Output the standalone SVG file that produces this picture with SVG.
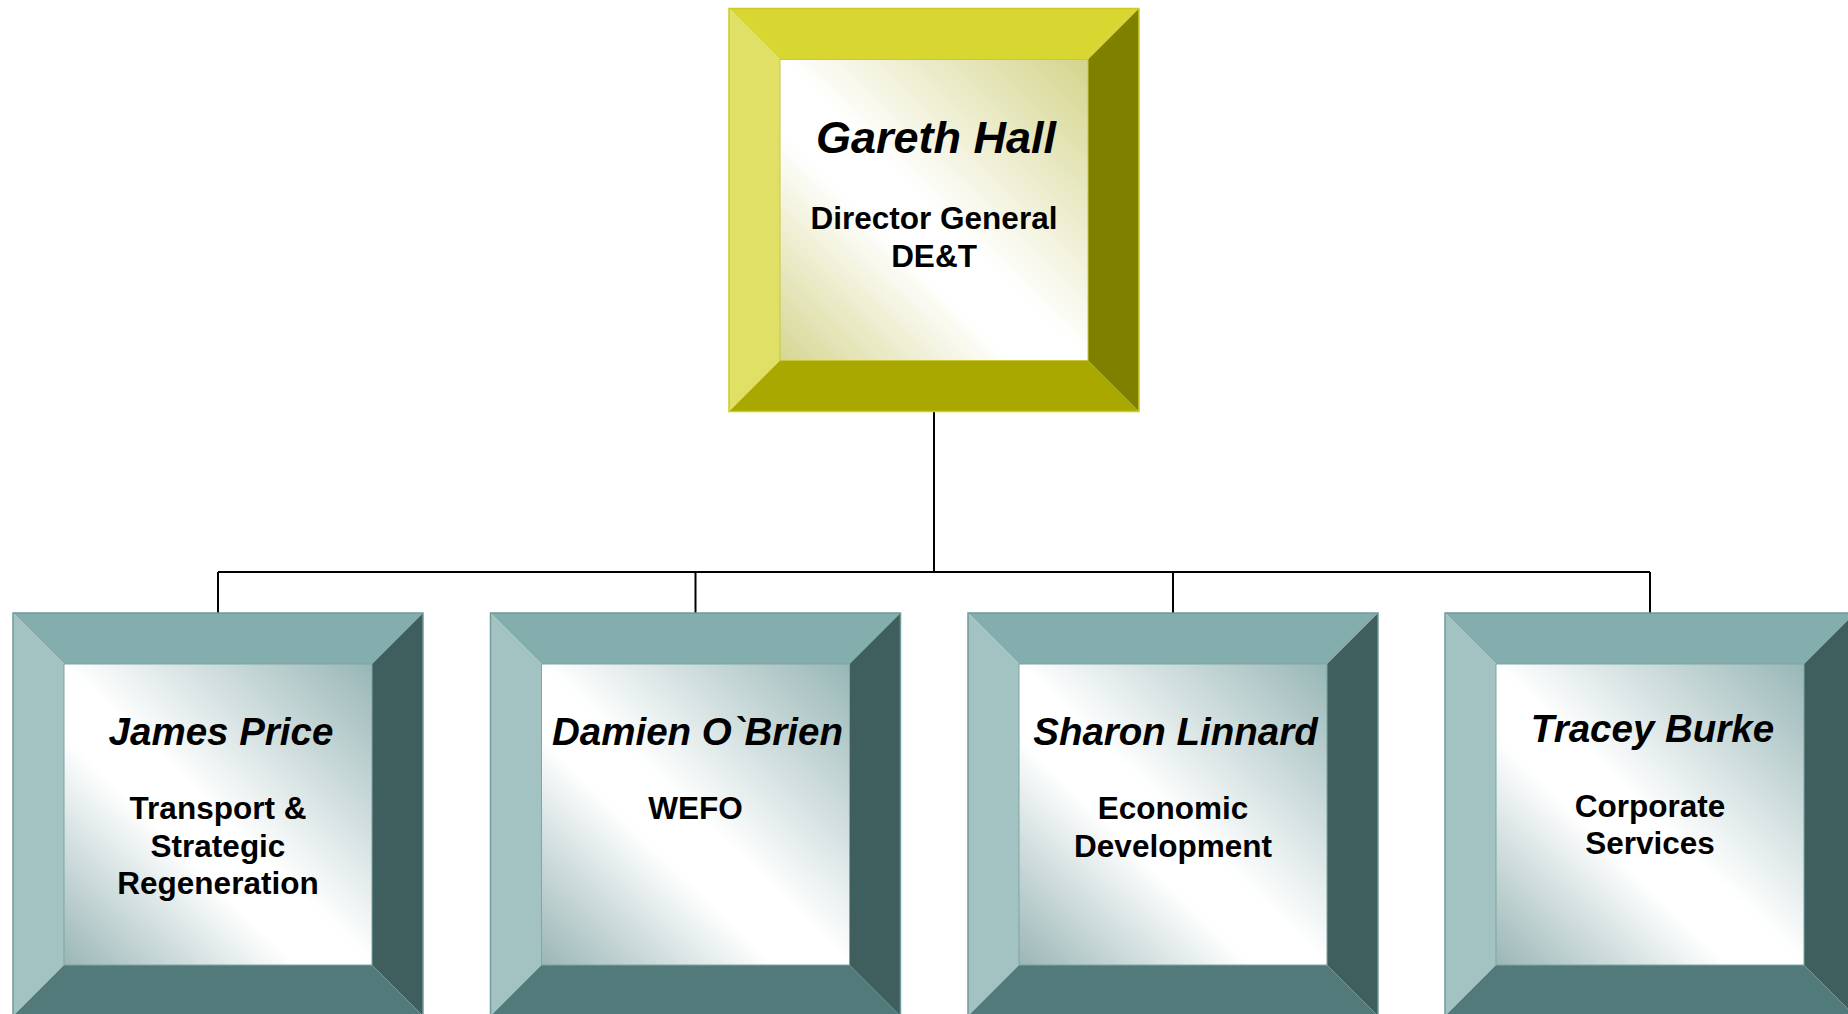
<svg xmlns="http://www.w3.org/2000/svg" width="1848" height="1014" viewBox="0 0 1848 1014">
  <defs>
    <!-- face shading: tinted corners, soft white diagonal band -->
    <linearGradient id="faceYellow" x1="1" y1="0" x2="0" y2="1">
      <stop offset="0" stop-color="#D4D48C"/>
      <stop offset="0.5" stop-color="#FFFFFF"/>
      <stop offset="0.62" stop-color="#FFFFFF"/>
      <stop offset="1" stop-color="#D6D692"/>
    </linearGradient>
    <linearGradient id="faceTeal" x1="1" y1="0" x2="0" y2="1">
      <stop offset="0" stop-color="#98B6B6"/>
      <stop offset="0.5" stop-color="#FFFFFF"/>
      <stop offset="0.62" stop-color="#FFFFFF"/>
      <stop offset="1" stop-color="#9AB6B6"/>
    </linearGradient>
    <style>
      .name { font-family: "Liberation Sans", Arial, sans-serif; font-weight: bold; font-style: italic; text-anchor: middle; fill: #000; }
      .role { font-family: "Liberation Sans", Arial, sans-serif; font-weight: bold; text-anchor: middle; fill: #000; font-size: 31.5px; }
      .yel .t { fill: #D8D630; }
      .yel .l { fill: #E0E066; }
      .yel .r { fill: #7F7F00; }
      .yel .b { fill: #A8A800; }
      .yel .f { fill: url(#faceYellow); stroke: #C8C840; stroke-width: 1; }
      .yel .o { fill: none; stroke: #CCCC22; stroke-width: 1.5; }
      .tea .t { fill: #84ADAD; }
      .tea .l { fill: #A3C3C3; }
      .tea .r { fill: #3F5E5E; }
      .tea .b { fill: #527A7A; }
      .tea .f { fill: url(#faceTeal); stroke: #7FA5A5; stroke-width: 1; }
      .tea .o { fill: none; stroke: #6F9B9B; stroke-width: 1.5; }
      .wire { stroke: #000; stroke-width: 2; fill: none; }
    </style>
  </defs>

  <!-- connectors -->
  <g id="connectors">
    <path class="wire" d="M934,412 V572"/>
    <path class="wire" d="M218,572 H1650"/>
    <path class="wire" d="M218,572 V613"/>
    <path class="wire" d="M695.5,572 V613"/>
    <path class="wire" d="M1173,572 V613"/>
    <path class="wire" d="M1650,572 V613"/>
  </g>

  <!-- Director General (bevelled frame 410 x 403, 51px bevels) -->
  <g id="gareth-hall" class="yel" transform="translate(729,8.5)">
    <polygon class="t" points="0,0 410,0 359,51 51,51"/>
    <polygon class="l" points="0,0 51,51 51,352 0,403"/>
    <polygon class="r" points="410,0 410,403 359,352 359,51"/>
    <polygon class="b" points="0,403 51,352 359,352 410,403"/>
    <rect class="f" x="51" y="51" width="308" height="301"/>
    <rect class="o" x="0" y="0" width="410" height="403"/>
    <text class="name" x="207" y="144.5" font-size="45">Gareth Hall</text>
    <text class="role" x="205" y="220.5">Director General</text>
    <text class="role" x="205" y="258.5">DE&amp;T</text>
  </g>

  <!-- Directors -->
  <g id="james-price" class="tea" transform="translate(13,613)">
    <polygon class="t" points="0,0 410,0 359,51 51,51"/>
    <polygon class="l" points="0,0 51,51 51,352 0,403"/>
    <polygon class="r" points="410,0 410,403 359,352 359,51"/>
    <polygon class="b" points="0,403 51,352 359,352 410,403"/>
    <rect class="f" x="51" y="51" width="308" height="301"/>
    <rect class="o" x="0" y="0" width="410" height="403"/>
    <text class="name" x="208" y="132" font-size="38.5">James Price</text>
    <text class="role" x="205" y="206">Transport &amp;</text>
    <text class="role" x="205" y="243.5">Strategic</text>
    <text class="role" x="205" y="281">Regeneration</text>
  </g>

  <g id="damien-obrien" class="tea" transform="translate(490.5,613)">
    <polygon class="t" points="0,0 410,0 359,51 51,51"/>
    <polygon class="l" points="0,0 51,51 51,352 0,403"/>
    <polygon class="r" points="410,0 410,403 359,352 359,51"/>
    <polygon class="b" points="0,403 51,352 359,352 410,403"/>
    <rect class="f" x="51" y="51" width="308" height="301"/>
    <rect class="o" x="0" y="0" width="410" height="403"/>
    <text class="name" x="207" y="132" font-size="38.5">Damien O`Brien</text>
    <text class="role" x="205" y="206">WEFO</text>
  </g>

  <g id="sharon-linnard" class="tea" transform="translate(968,613)">
    <polygon class="t" points="0,0 410,0 359,51 51,51"/>
    <polygon class="l" points="0,0 51,51 51,352 0,403"/>
    <polygon class="r" points="410,0 410,403 359,352 359,51"/>
    <polygon class="b" points="0,403 51,352 359,352 410,403"/>
    <rect class="f" x="51" y="51" width="308" height="301"/>
    <rect class="o" x="0" y="0" width="410" height="403"/>
    <text class="name" x="207.5" y="132" font-size="38.5">Sharon Linnard</text>
    <text class="role" x="205" y="206">Economic</text>
    <text class="role" x="205" y="243.5">Development</text>
  </g>

  <g id="tracey-burke" class="tea" transform="translate(1445,613)">
    <polygon class="t" points="0,0 410,0 359,51 51,51"/>
    <polygon class="l" points="0,0 51,51 51,352 0,403"/>
    <polygon class="r" points="410,0 410,403 359,352 359,51"/>
    <polygon class="b" points="0,403 51,352 359,352 410,403"/>
    <rect class="f" x="51" y="51" width="308" height="301"/>
    <rect class="o" x="0" y="0" width="410" height="403"/>
    <text class="name" x="207.5" y="129" font-size="38.5">Tracey Burke</text>
    <text class="role" x="205" y="203.5">Corporate</text>
    <text class="role" x="205" y="241">Services</text>
  </g>
</svg>
